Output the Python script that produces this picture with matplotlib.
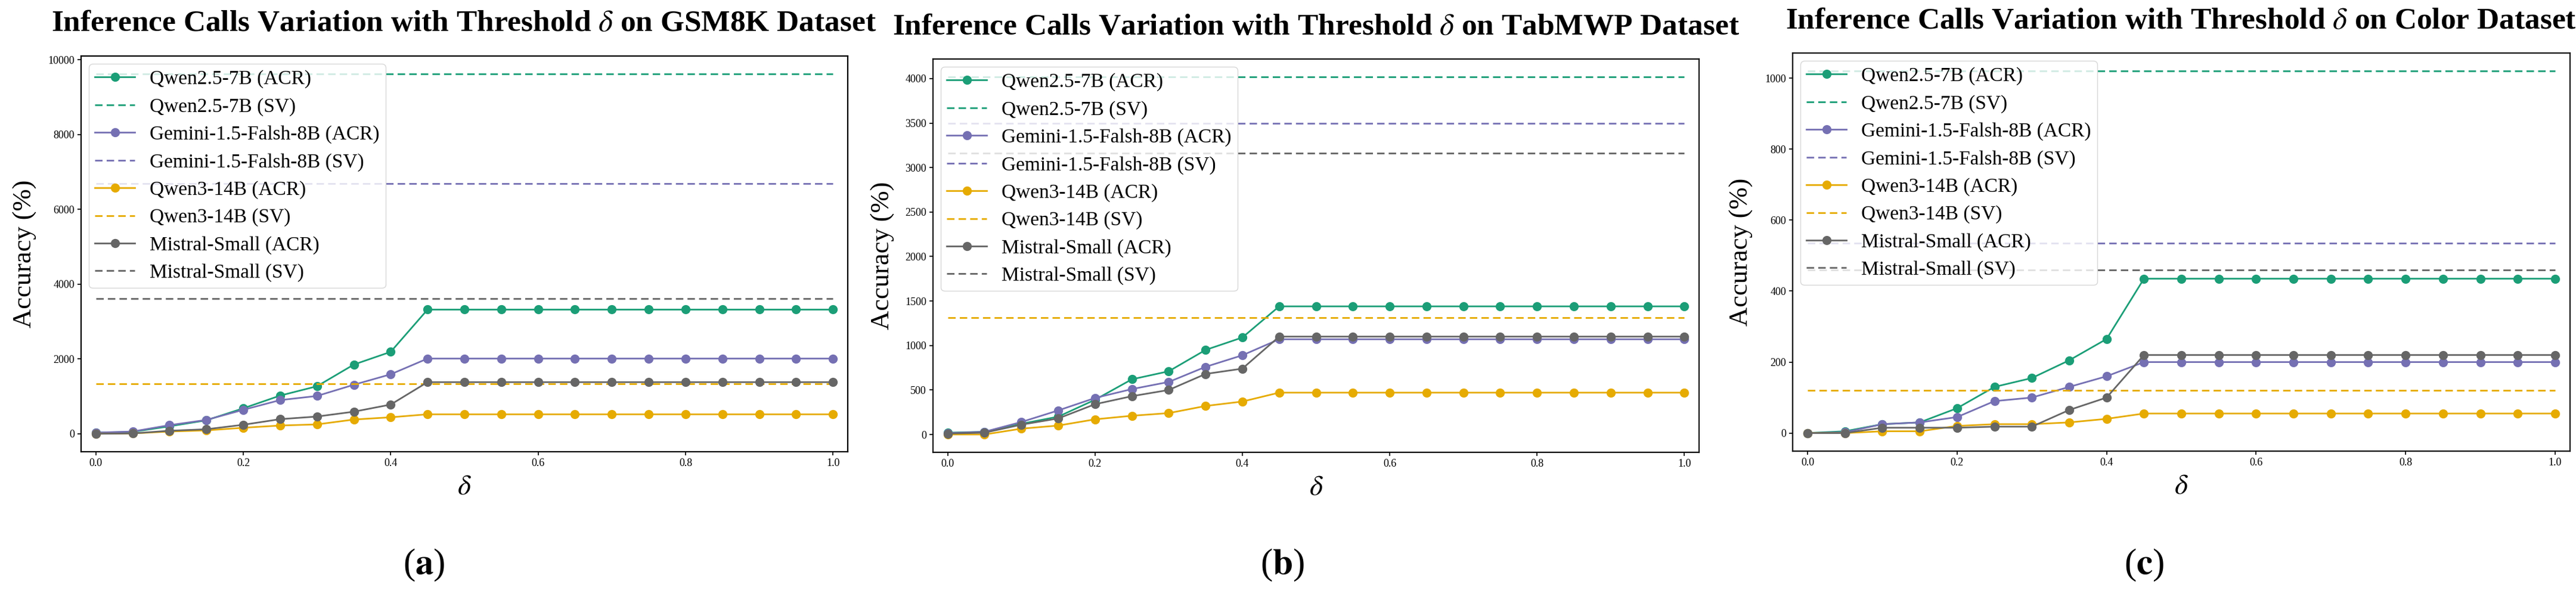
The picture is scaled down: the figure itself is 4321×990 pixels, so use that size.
import matplotlib
matplotlib.use('Agg')
import matplotlib.pyplot as plt

plt.rcParams['font.family'] = 'serif'
plt.rcParams['font.serif'] = ['Liberation Serif', 'DejaVu Serif']
plt.rcParams['mathtext.fontset'] = 'stix'

# threshold values on the x axis
delta = [0.0, 0.05, 0.1, 0.15, 0.2, 0.25, 0.3, 0.35, 0.4, 0.45, 0.5,
         0.55, 0.6, 0.65, 0.7, 0.75, 0.8, 0.85, 0.9, 0.95, 1.0]

models = ['Qwen2.5-7B', 'Gemini-1.5-Falsh-8B', 'Qwen3-14B', 'Mistral-Small']
colors = ['#1b9e77', '#7570b3', '#e6ab02', '#666666']

# GSM8K
gsm_qwen25 = [30, 50, 200, 360, 680, 1020, 1270, 1850, 2190, 3320, 3320,
              3320, 3320, 3320, 3320, 3320, 3320, 3320, 3320, 3320, 3320]
gsm_gemini = [30, 60, 230, 370, 640, 900, 1010, 1310, 1590, 2010, 2010,
              2010, 2010, 2010, 2010, 2010, 2010, 2010, 2010, 2010, 2010]
gsm_qwen3 = [0, 10, 60, 90, 160, 220, 250, 380, 440, 520, 520,
             520, 520, 520, 520, 520, 520, 520, 520, 520, 520]
gsm_mistral = [0, 10, 80, 120, 240, 390, 460, 590, 780, 1380, 1380,
               1380, 1380, 1380, 1380, 1380, 1380, 1380, 1380, 1380, 1380]
gsm_sv = [9620, 6690, 1335, 3610]

# TabMWP
tab_qwen25 = [20, 30, 120, 200, 390, 620, 710, 950, 1090, 1440, 1440,
              1440, 1440, 1440, 1440, 1440, 1440, 1440, 1440, 1440, 1440]
tab_gemini = [15, 30, 140, 270, 410, 510, 590, 760, 890, 1070, 1070,
              1070, 1070, 1070, 1070, 1070, 1070, 1070, 1070, 1070, 1070]
tab_qwen3 = [0, 0, 65, 100, 170, 210, 240, 320, 370, 470, 470,
             470, 470, 470, 470, 470, 470, 470, 470, 470, 470]
tab_mistral = [10, 20, 110, 180, 340, 430, 500, 680, 740, 1100, 1100,
               1100, 1100, 1100, 1100, 1100, 1100, 1100, 1100, 1100, 1100]
tab_sv = [4020, 3500, 1310, 3160]

# Color
col_qwen25 = [0, 5, 25, 30, 70, 130, 155, 205, 265, 435, 435,
              435, 435, 435, 435, 435, 435, 435, 435, 435, 435]
col_gemini = [0, 2, 25, 30, 45, 90, 100, 130, 160, 200, 200,
              200, 200, 200, 200, 200, 200, 200, 200, 200, 200]
col_qwen3 = [0, 0, 5, 5, 20, 25, 25, 30, 40, 55, 55,
             55, 55, 55, 55, 55, 55, 55, 55, 55, 55]
col_mistral = [0, 0, 15, 15, 15, 18, 18, 65, 100, 220, 220,
               220, 220, 220, 220, 220, 220, 220, 220, 220, 220]
col_sv = [1020, 535, 120, 460]

W, H = 4321, 990
fig = plt.figure(figsize=(W / 100, H / 100), dpi=100)

# name, series, sv, axes box (px), title centre, ylabel x, caption x, letter
panels = [
    ('GSM8K', [gsm_qwen25, gsm_gemini, gsm_qwen3, gsm_mistral], gsm_sv,
     (136, 94, 1422, 758), (778, 40), 42, 711, 'a'),
    ('TabMWP', [tab_qwen25, tab_gemini, tab_qwen3, tab_mistral], tab_sv,
     (1565, 99, 2850, 759), (2208, 46), 1481, 2151, 'b'),
    ('Color', [col_qwen25, col_gemini, col_qwen3, col_mistral], col_sv,
     (3007, 89, 4311, 757), (3658, 36), 2921, 3597, 'c'),
]

for name, acr, sv, box, tpos, lx, cx, letter in panels:
    x0, y0, x1, y1 = box
    ax = fig.add_axes([x0 / W, 1 - y1 / H, (x1 - x0) / W, (y1 - y0) / H])
    for i in range(4):
        ax.plot(delta, acr[i], '-o', color=colors[i], lw=2, ms=10,
                label=models[i] + ' (ACR)')
        ax.plot(delta, [sv[i]] * len(delta), '--', color=colors[i], lw=2,
                dashes=(4.5, 2.5), label=models[i] + ' (SV)')
    ax.set_xlim(-0.02, 1.02)
    ax.tick_params(labelsize=13, length=4.5, width=1.2)
    for s in ax.spines.values():
        s.set_linewidth(1.6)
    ax.set_ylabel('Accuracy (%)', fontsize=32, va='center')
    ax.yaxis.set_label_coords((lx - x0) / (x1 - x0), 0.5)
    ax.set_xlabel(r'$\delta$', fontsize=34, va='center')
    ax.xaxis.set_label_coords(0.5, -0.09)
    ax.legend(loc='upper left', fontsize=24, labelspacing=0.47,
              handlelength=2.0, handletextpad=0.75, borderpad=0.3,
              borderaxespad=0.4)
    fig.text(tpos[0] / W, 1 - tpos[1] / H,
             r'Inference Calls Variation with Threshold $\delta$ on ' + name + ' Dataset',
             fontsize=37, fontweight='bold', ha='center', va='center')
    fig.text(cx / W, 1 - 948 / H, r'($\mathbf{' + letter + '}$)',
             fontsize=44, ha='center', va='center')

fig.savefig('out.png', dpi=100)
